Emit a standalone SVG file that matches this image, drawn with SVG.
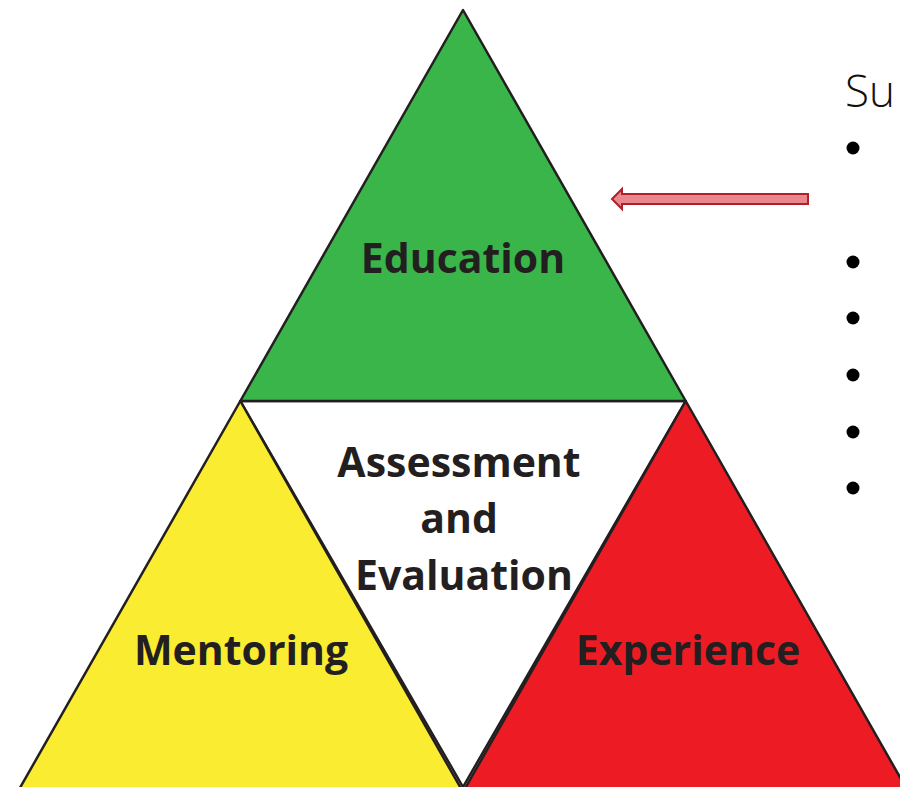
<svg xmlns="http://www.w3.org/2000/svg" width="900" height="787" viewBox="0 0 900 787">
<style>
.tri{stroke:#231f20;stroke-width:2.5;stroke-linejoin:round}
.lbl{font-family:"Open Sans","Liberation Sans",sans-serif;font-weight:bold;font-size:41px;fill:#231f20;text-anchor:middle}
.bul{fill:#000}
</style>
<rect width="900" height="787" fill="#fff"/>
<g id="assessment">
<polygon class="tri" points="240.3,401 685.7,401 463,787" fill="#fff"/>
<text class="lbl" x="459" y="477">Assessment</text>
<text class="lbl" x="459" y="533">and</text>
<text class="lbl" x="464" y="590">Evaluation</text>
</g>
<g id="education">
<polygon class="tri" points="463,10 685.7,401 240.3,401" fill="#39b54a"/>
<text class="lbl" x="463" y="273">Education</text>
</g>
<g id="mentoring">
<polygon class="tri" points="240.3,401 463,792 17.6,792" fill="#f9ec31"/>
<text class="lbl" x="241" y="665">Mentoring</text>
</g>
<g id="experience">
<polygon class="tri" points="685.7,401 908.4,792 463,792" fill="#ed1c24"/>
<text class="lbl" x="688" y="665">Experience</text>
</g>
<g id="connectors">
<polygon points="808,194 622,194 622,189 612,199 622,209 622,204 808,204" fill="#e8878c" stroke="#b11f2a" stroke-width="2" stroke-linejoin="miter"/>
</g>
<g id="list">
<text x="845" y="107" font-family="'Open Sans','Liberation Sans',sans-serif" font-weight="300" font-size="44" fill="#111">Su</text>
<circle class="bul" cx="853" cy="148" r="6.5"/>
<circle class="bul" cx="853" cy="262" r="6.5"/>
<circle class="bul" cx="853" cy="318" r="6.5"/>
<circle class="bul" cx="853" cy="375" r="6.5"/>
<circle class="bul" cx="853" cy="432" r="6.5"/>
<circle class="bul" cx="853" cy="488" r="6.5"/>
</g>
</svg>
